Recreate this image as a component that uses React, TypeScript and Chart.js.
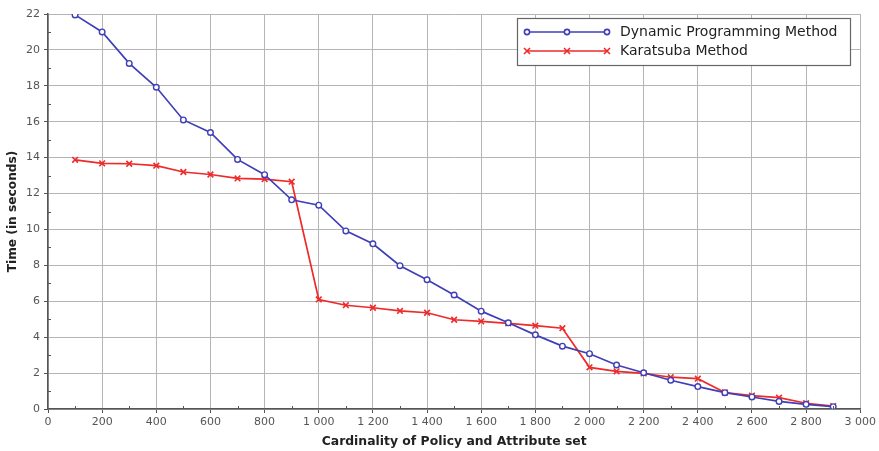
import React, { useEffect, useRef } from "react";
import { Chart, registerables } from "chart.js";

Chart.register(...registerables);

const xValues = [100, 200, 300, 400, 500, 600, 700, 800, 900, 1000, 1100, 1200, 1300, 1400, 1500, 1600, 1700, 1800, 1900, 2000, 2100, 2200, 2300, 2400, 2500, 2600, 2700, 2800, 2900];
const dynamicProgramming = [21.95, 21.0, 19.25, 17.92, 16.1, 15.4, 13.9, 13.05, 11.65, 11.35, 9.92, 9.2, 7.98, 7.2, 6.35, 5.45, 4.8, 4.13, 3.5, 3.08, 2.45, 2.02, 1.6, 1.25, 0.91, 0.67, 0.42, 0.26, 0.13];
const karatsuba = [13.88, 13.68, 13.66, 13.55, 13.2, 13.06, 12.84, 12.8, 12.66, 6.1, 5.78, 5.64, 5.46, 5.36, 4.97, 4.88, 4.77, 4.64, 4.5, 2.32, 2.1, 1.98, 1.77, 1.69, 0.92, 0.75, 0.63, 0.32, 0.16];
const seriesNames = ["Dynamic Programming Method", "Karatsuba Method"];
const xTitle = "Cardinality of Policy and Attribute set";
const yTitle = "Time (in seconds)";

const BLUE = "#3f3fb8";
const RED = "#ee2a2a";
const FONT = "'DejaVu Sans', sans-serif";

const fmt = (v: number) => String(v).replace(/\B(?=(\d{3})+(?!\d))/g, " ");

const minorTicks = {
  id: "minorTicks",
  afterDatasetsDraw(chart: any) {
    const { ctx, scales, chartArea } = chart;
    const x = scales.x;
    const y = scales.y;
    ctx.save();
    ctx.strokeStyle = "#555";
    ctx.lineWidth = 1;
    ctx.beginPath();
    for (let v = 100; v < 3000; v += 200) {
      const px = Math.round(x.getPixelForValue(v)) + 0.5;
      ctx.moveTo(px, chartArea.bottom);
      ctx.lineTo(px, chartArea.bottom - 3);
    }
    for (let v = 1; v < 22; v += 2) {
      const py = Math.round(y.getPixelForValue(v)) + 0.5;
      ctx.moveTo(chartArea.left, py);
      ctx.lineTo(chartArea.left + 3, py);
    }
    ctx.stroke();
    ctx.restore();
  },
};

const customLegend = {
  id: "customLegend",
  afterDraw(chart: any) {
    const ctx = chart.ctx;
    const bx = 517, by = 18, bw = 333, bh = 47;
    ctx.save();
    ctx.fillStyle = "#ffffff";
    ctx.fillRect(bx, by, bw, bh);
    ctx.strokeStyle = "#666";
    ctx.lineWidth = 1.2;
    ctx.strokeRect(bx + 0.5, by + 0.5, bw, bh);
    const rows = [
      { y: 32, color: BLUE, name: seriesNames[0], style: "circle" },
      { y: 51, color: RED, name: seriesNames[1], style: "cross" },
    ];
    for (const r of rows) {
      ctx.strokeStyle = r.color;
      ctx.lineWidth = 1.6;
      ctx.beginPath();
      ctx.moveTo(527, r.y);
      ctx.lineTo(607, r.y);
      ctx.stroke();
      for (const mx of [527, 567, 607]) {
        if (r.style === "circle") {
          ctx.beginPath();
          ctx.fillStyle = "#fff";
          ctx.arc(mx, r.y, 2.6, 0, Math.PI * 2);
          ctx.fill();
          ctx.stroke();
        } else {
          ctx.beginPath();
          ctx.moveTo(mx - 3, r.y - 3);
          ctx.lineTo(mx + 3, r.y + 3);
          ctx.moveTo(mx - 3, r.y + 3);
          ctx.lineTo(mx + 3, r.y - 3);
          ctx.stroke();
        }
      }
      ctx.fillStyle = "#222";
      ctx.font = `14px ${FONT}`;
      ctx.textBaseline = "middle";
      ctx.textAlign = "left";
      ctx.fillText(r.name, 620, r.y);
    }
    ctx.restore();
  },
};

export default function App() {
  const canvasRef = useRef<HTMLCanvasElement | null>(null);

  useEffect(() => {
    document.body.style.margin = "0";
    const canvas = canvasRef.current;
    if (!canvas) return;
    const chart = new Chart(canvas, {
      type: "line",
      data: {
        datasets: [
          {
            label: seriesNames[0],
            data: xValues.map((x, i) => ({ x, y: dynamicProgramming[i] })),
            borderColor: BLUE,
            backgroundColor: "#ffffff",
            borderWidth: 1.7,
            pointStyle: "circle",
            pointRadius: 2.8,
            pointBorderWidth: 1.4,
            pointBorderColor: BLUE,
            pointBackgroundColor: "#ffffff",
            tension: 0,
          },
          {
            label: seriesNames[1],
            data: xValues.map((x, i) => ({ x, y: karatsuba[i] })),
            borderColor: RED,
            backgroundColor: RED,
            borderWidth: 1.7,
            pointStyle: "crossRot",
            pointRadius: 4,
            pointBorderWidth: 1.6,
            pointBorderColor: RED,
            tension: 0,
          },
        ],
      },
      options: {
        animation: false,
        responsive: false,
        layout: { padding: { top: 14, right: 18, left: 0, bottom: 0 } },
        plugins: {
          legend: { display: false },
          tooltip: { enabled: false },
        },
        scales: {
          x: {
            type: "linear",
            min: 0,
            max: 3000,
            ticks: {
              stepSize: 200,
              callback: (v: any) => fmt(Number(v)),
              font: { family: FONT, size: 11 },
              color: "#555",
              padding: 3,
              maxRotation: 0,
            },
            grid: { color: "#b5b5b5", lineWidth: 1, tickLength: 4, tickColor: "#555" },
            border: { color: "#555", width: 1.5 },
            title: {
              display: true,
              text: xTitle,
              font: { family: FONT, size: 12.4, weight: "bold" },
              color: "#222",
              padding: { top: 0, bottom: 2 },
            },
            afterFit: (s: any) => { s.height = 42; },
          },
          y: {
            type: "linear",
            min: 0,
            max: 22,
            ticks: {
              stepSize: 2,
              font: { family: FONT, size: 11 },
              color: "#555",
              padding: 4,
            },
            grid: { color: "#b5b5b5", lineWidth: 1, tickLength: 4, tickColor: "#555" },
            border: { color: "#555", width: 1.5 },
            title: {
              display: true,
              text: yTitle,
              font: { family: FONT, size: 12.2, weight: "bold" },
              color: "#222",
              padding: { top: 6, bottom: 0 },
            },
            afterFit: (s: any) => { s.width = 48; },
          },
        },
      },
      plugins: [minorTicks, customLegend],
    });
    return () => chart.destroy();
  }, []);

  return (
    <div style={{ position: "fixed", left: 0, top: 0, width: 879, height: 451, background: "#fff" }}>
      <canvas ref={canvasRef} width={879} height={451} style={{ width: 879, height: 451 }} />
    </div>
  );
}
